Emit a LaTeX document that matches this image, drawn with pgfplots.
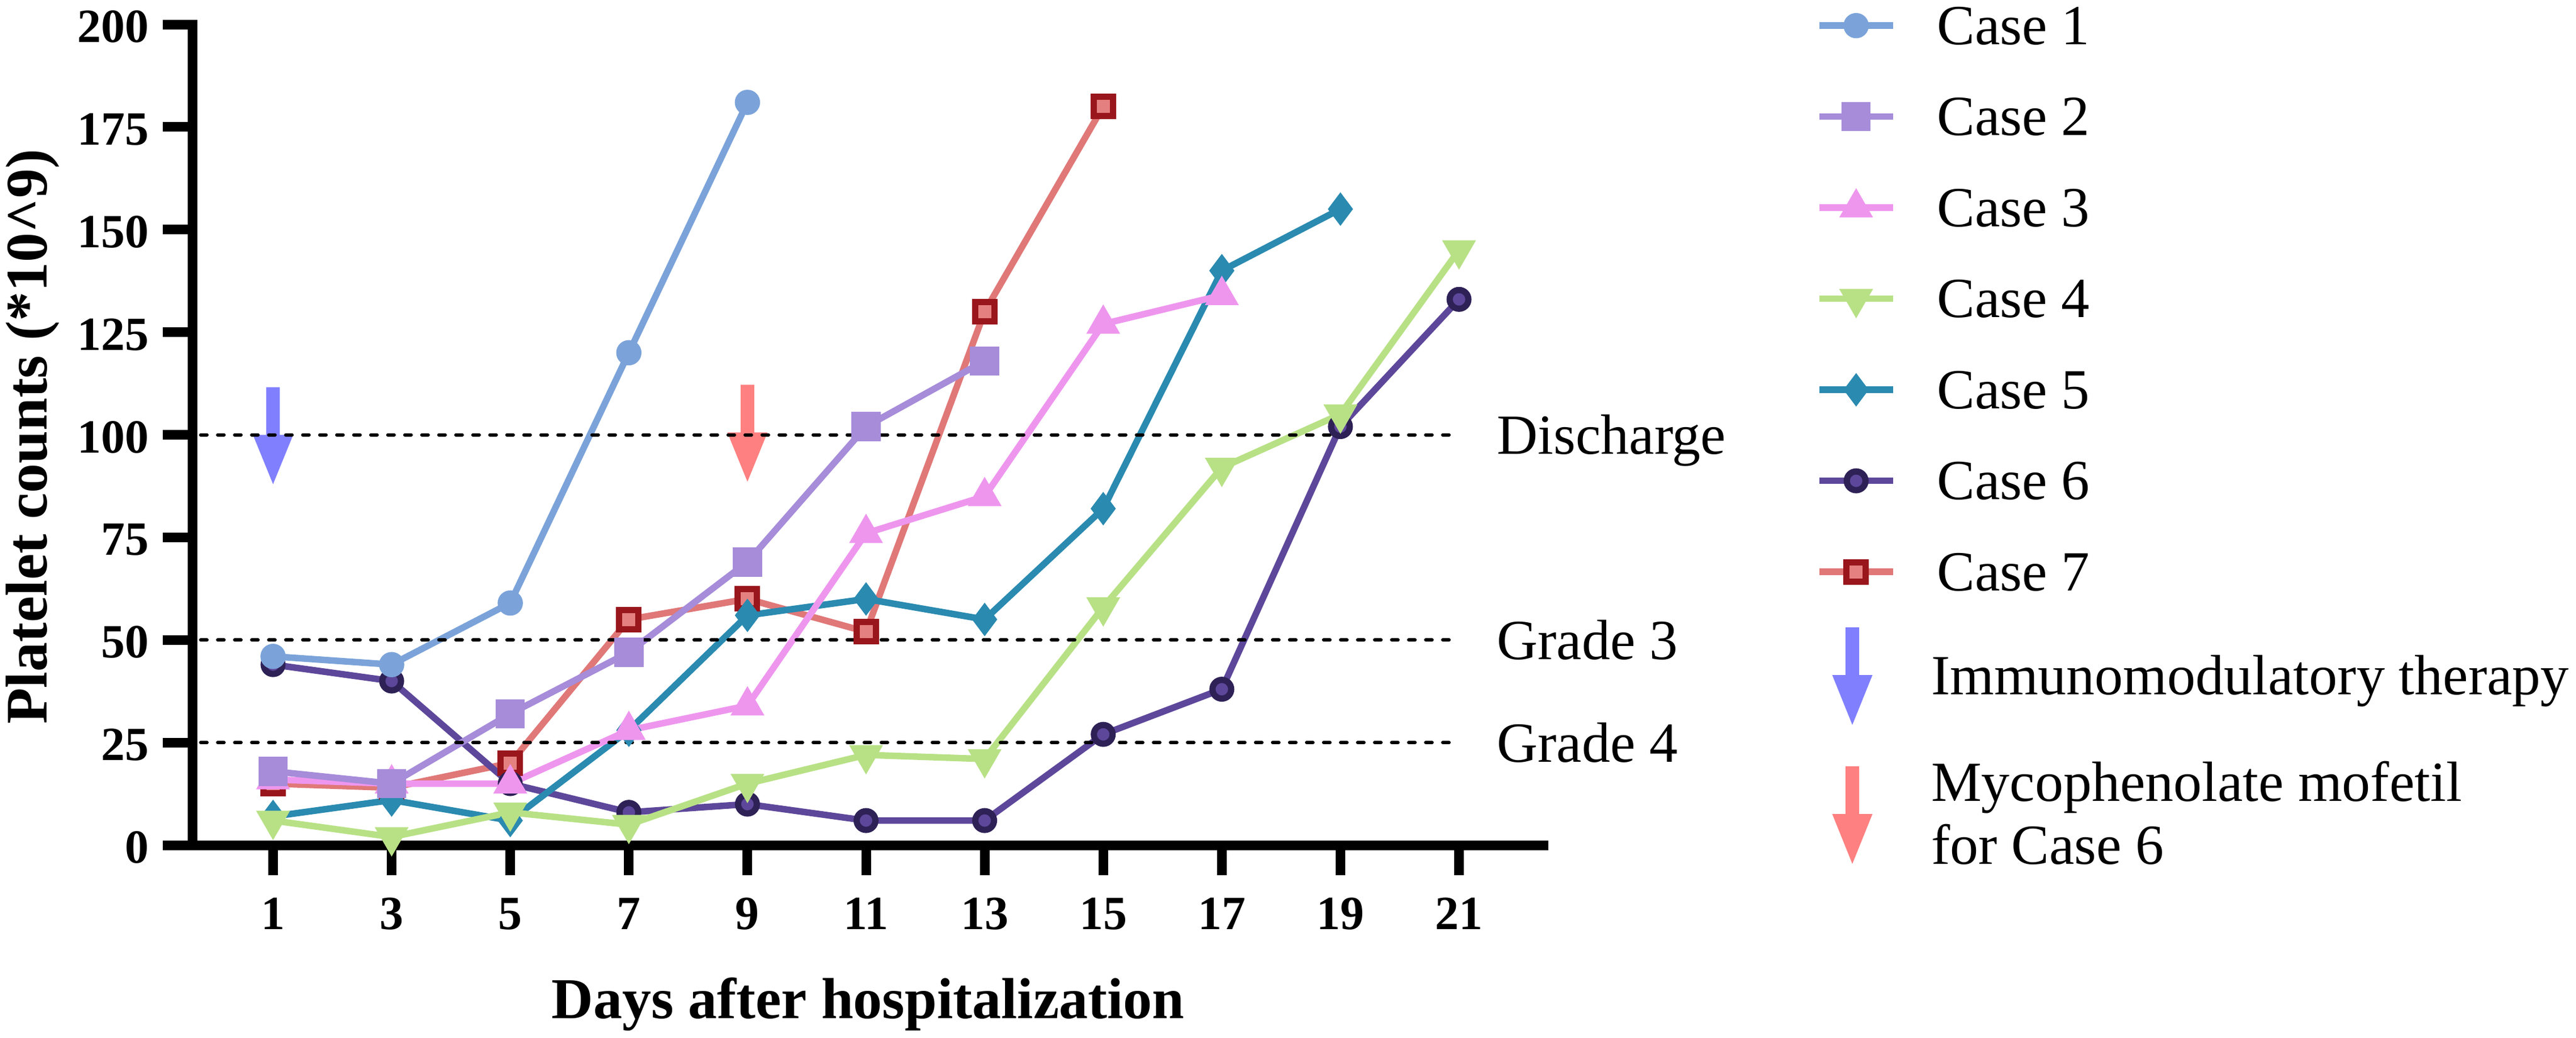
\documentclass[border=0pt]{standalone}
\usepackage{fontspec}
\setmainfont{Liberation Serif}
\usepackage{pgfplots}
\pgfplotsset{compat=1.18}

\definecolor{c1}{HTML}{7BA3D9}
\definecolor{c2}{HTML}{A68CD9}
\definecolor{c3}{HTML}{EE96EE}
\definecolor{c4}{HTML}{B8E186}
\definecolor{c5}{HTML}{2A8AB0}
\definecolor{c6}{HTML}{5D479A}
\definecolor{c6e}{HTML}{2E2156}
\definecolor{c7}{HTML}{E07878}
\definecolor{c7f}{HTML}{E58080}
\definecolor{c7e}{HTML}{99161C}
\definecolor{arrblue}{HTML}{8080FF}
\definecolor{arrred}{HTML}{FF8080}

\newcommand{\lfont}{\fontsize{10}{12}\selectfont}

\begin{document}
\begin{tikzpicture}
\begin{axis}[
  at={(0,0)}, anchor=south west,
  scale only axis, width=238.1pt, height=144.7pt,
  xmin=-0.353, xmax=22.42, ymin=0, ymax=200,
  axis x line=bottom, axis y line=left,
  axis line style={-, line width=1.7pt, line cap=rect},
  xtick={1,3,...,21}, ytick={0,25,...,200},
  tick align=outside, major tick length=5.3pt,
  tick style={line width=1.7pt, black},
  /pgf/number format/assume math mode=true,
  ticklabel style={font=\bfseries\fontsize{8.4}{10}\selectfont, inner sep=0pt},
  xticklabel style={anchor=base, yshift=-9.5pt},
  yticklabel style={anchor=east, xshift=-2.2pt, yshift=-0.4pt},
  xlabel={Days after hospitalization},
  xlabel style={at={(axis description cs:0.5,0)}, anchor=base, yshift=-30.5pt, font=\bfseries\fontsize{10.2}{12}\selectfont, inner sep=0pt},
  ylabel={Platelet counts (*10\string^9)},
  ylabel style={at={(axis description cs:-0.10836,0.4976)}, anchor=base, font=\bfseries\fontsize{10.4}{12}\selectfont, inner sep=0pt},
  clip=false,
  reverse legend,
  legend cell align=left,
  legend style={draw=none, fill=none, at={(axis description cs:1.2020,1.0214)}, anchor=north west,
    inner sep=0pt, outer sep=0pt, row sep=9.43pt, column sep=7.2pt, font=\lfont,
    nodes={inner sep=0pt, outer sep=0pt, text height=6.62pt, text depth=0pt}},
  legend image code/.code={\draw[mark repeat=2, mark phase=2, #1] plot coordinates {(0pt,0pt) (6.5pt,0pt) (13pt,0pt)};},
  every axis plot/.append style={line width=1.15pt},
]

% arrows (annotations)
\fill[arrblue] (axis cs:1,111.6) ++(-1.2pt,0pt) -- ++(0pt,-8.4pt) -- ++(-2.35pt,0pt) -- ++(3.55pt,-8.7pt) -- ++(3.55pt,8.7pt) -- ++(-2.35pt,0pt) -- ++(0pt,8.4pt) -- cycle;
\fill[arrred] (axis cs:9,112.2) ++(-1.2pt,0pt) -- ++(0pt,-8.4pt) -- ++(-2.35pt,0pt) -- ++(3.55pt,-8.7pt) -- ++(3.55pt,8.7pt) -- ++(-2.35pt,0pt) -- ++(0pt,8.4pt) -- cycle;

% Case 7
\addplot[c7, mark=square*, mark size=1.7pt, mark options={fill=c7f, draw=c7e, line width=1.1pt}]
  coordinates {(1,15)(3,14)(5,20)(7,55)(9,60)(11,52)(13,130)(15,180)};
\addlegendentry{Case 7}
% Case 6
\addplot[c6, mark=*, mark size=1.65pt, mark options={fill=c6, draw=c6e, line width=1.1pt}]
  coordinates {(1,44)(3,40)(5,15)(7,8)(9,10)(11,6)(13,6)(15,27)(17,38)(19,102)(21,133)};
\addlegendentry{Case 6}
% Case 5
\addplot[c5, mark=diamond*, mark size=2.0pt, mark options={fill=c5, draw=none}]
  coordinates {(1,7)(3,11)(5,6)(7,28)(9,56)(11,60)(13,55)(15,82)(17,140)(19,155)};
\addlegendentry{Case 5}
% Case 4
\addplot[c4, mark=triangle*, mark size=2.3pt, mark options={fill=c4, draw=none, rotate=180}]
  coordinates {(1,6)(3,2)(5,8)(7,5)(9,15)(11,22)(13,21)(15,58)(17,92)(19,105)(21,145)};
\addlegendentry{Case 4}
% Case 3
\addplot[c3, mark=triangle*, mark size=2.3pt, mark options={fill=c3, draw=none}]
  coordinates {(1,16)(3,15)(5,15)(7,28)(9,34)(11,76)(13,85)(15,127)(17,134)};
\addlegendentry{Case 3}
% Case 2
\addplot[c2, mark=square*, mark size=2.0pt, mark options={fill=c2, draw=none}]
  coordinates {(1,18)(3,15)(5,32)(7,47)(9,69)(11,102)(13,118)};
\addlegendentry{Case 2}
% Case 1
\addplot[c1, mark=*, mark size=1.65pt, mark options={fill=c1, draw=none}]
  coordinates {(1,46)(3,44)(5,59)(7,120)(9,181)};
\addlegendentry{Case 1}

% reference lines
\addplot[forget plot, black, line width=0.6pt, dash pattern=on 1.1pt off 1.9pt, line cap=round, mark=none]
  coordinates {(-0.22,100)(20.95,100)};
\addplot[forget plot, black, line width=0.6pt, dash pattern=on 1.1pt off 1.9pt, line cap=round, mark=none]
  coordinates {(-0.22,50)(20.85,50)};
\addplot[forget plot, black, line width=0.6pt, dash pattern=on 1.1pt off 1.9pt, line cap=round, mark=none]
  coordinates {(-0.22,25)(20.85,25)};

\node[anchor=base west, inner sep=0pt, font=\lfont, yshift=-3.4pt] at (axis cs:21.62,100) {Discharge};
\node[anchor=base west, inner sep=0pt, font=\lfont, yshift=-3.4pt] at (axis cs:21.62,50) {Grade 3};
\node[anchor=base west, inner sep=0pt, font=\lfont, yshift=-3.4pt] at (axis cs:21.62,25) {Grade 4};
\end{axis}

% legend entries for the arrows
\fill[arrblue] (292.6pt,38.4pt) ++(-1.2pt,0pt) -- ++(0pt,-8.4pt) -- ++(-2.35pt,0pt) -- ++(3.55pt,-8.8pt) -- ++(3.55pt,8.8pt) -- ++(-2.35pt,0pt) -- ++(0pt,8.4pt) -- cycle;
\node[anchor=base west, inner sep=0pt, font=\lfont] at (306.3pt,26.6pt) {Immunomodulatory therapy};
\fill[arrred] (292.6pt,13.9pt) ++(-1.2pt,0pt) -- ++(0pt,-8.4pt) -- ++(-2.35pt,0pt) -- ++(3.55pt,-8.8pt) -- ++(3.55pt,8.8pt) -- ++(-2.35pt,0pt) -- ++(0pt,8.4pt) -- cycle;
\node[anchor=base west, inner sep=0pt, font=\lfont] at (306.3pt,7.8pt) {Mycophenolate mofetil};
\node[anchor=base west, inner sep=0pt, font=\lfont] at (306.3pt,-3.3pt) {for Case 6};

\pgfresetboundingbox
\path[use as bounding box] (-34pt,-33.9pt) rectangle (420.2pt,149pt);
\end{tikzpicture}
\end{document}
